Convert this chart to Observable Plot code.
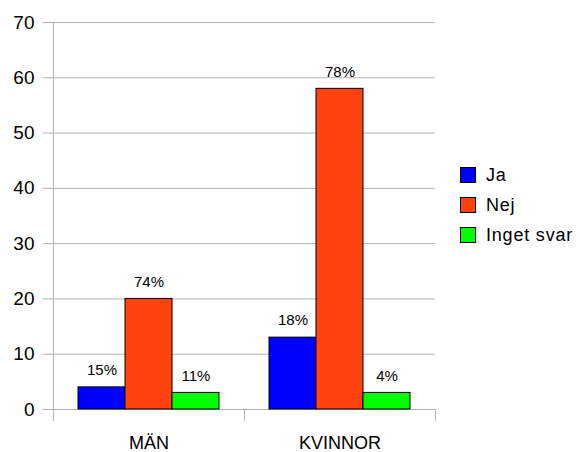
<!DOCTYPE html>
<html><head><meta charset="utf-8">
<script src="https://cdn.jsdelivr.net/npm/d3@7"></script>
<script src="https://cdn.jsdelivr.net/npm/@observablehq/plot@0.6"></script>
<style>
body{margin:0;background:#fff;font-family:"Liberation Sans",Arial,sans-serif}
#wrap{position:relative;width:580px;height:452px}
#legend{position:absolute;left:460px;top:160px;font-size:18px;color:#000;letter-spacing:0.8px}
.item{display:flex;align-items:center;height:30px}
.sw{width:14px;height:14px;border:1px solid #000;margin-right:10px}
</style></head><body><div id="wrap"></div>
<script>
const categories = ["MÄN", "KVINNOR"];
const series = ["Ja", "Nej", "Inget svar"];
const colors = ["#0000ff", "#ff420e", "#00ff00"];
const valuesJa = [4, 13];
const valuesNej = [20, 58];
const valuesInget = [3, 3];
const labelsJa = ["15%", "18%"];
const labelsNej = ["74%", "78%"];
const labelsInget = ["11%", "4%"];
const yTicks = [0, 10, 20, 30, 40, 50, 60, 70];

const seriesValues = [valuesJa, valuesNej, valuesInget];
const seriesLabels = [labelsJa, labelsNej, labelsInget];
const data = [];
categories.forEach((c, ci) => series.forEach((s, si) => data.push({cat: c, series: s, value: seriesValues[si][ci], label: seriesLabels[si][ci]})));

const W = 580, H = 452, mT = 22, mB = 43, mL = 53, mR = 145;
const frameH = H - mT - mB;
const grid = "#b3b3b3";

const chart = Plot.plot({
  width: W, height: H,
  marginLeft: mL, marginRight: mR, marginTop: mT, marginBottom: mB,
  style: {fontFamily: "'Liberation Sans', Arial, sans-serif", fontSize: "19px", color: "black", background: "white", overflow: "visible"},
  fx: {domain: categories, padding: 0, label: null, axis: null},
  x: {domain: series, paddingInner: 0, paddingOuter: 0.5, axis: null},
  y: {domain: [0, 70], label: null},
  color: {domain: series, range: colors},
  marks: [
    Plot.gridY(yTicks, {stroke: grid, strokeOpacity: 1}),
    Plot.axisY(yTicks, {tickSize: 10, tickPadding: 9, stroke: grid, strokeOpacity: 1, fill: "black", label: null, fontSize: 19}),
    Plot.frame({anchor: "left", facetAnchor: "left", insetBottom: -11, stroke: grid, strokeOpacity: 1}),
    Plot.frame({anchor: "right", insetTop: frameH, insetBottom: -11, stroke: grid, strokeOpacity: 1}),
    Plot.barY(data, {fx: "cat", x: "series", y: "value", fill: "series", stroke: "#000", strokeWidth: 1}),
    Plot.text(data, {fx: "cat", x: "series", y: "value", text: "label", dy: -17, fontSize: 15, fill: "black"}),
    Plot.axisFx({anchor: "bottom", tickSize: 0, tickPadding: 27, fontSize: 18, label: null, fill: "black", style: {letterSpacing: "0.8px"}})
  ]
});
const wrap = document.getElementById("wrap");
wrap.appendChild(chart);
const legend = document.createElement("div");
legend.id = "legend";
series.forEach((s, i) => {
  const it = document.createElement("div"); it.className = "item";
  const sw = document.createElement("span"); sw.className = "sw"; sw.style.background = colors[i];
  const t = document.createElement("span"); t.textContent = s;
  it.appendChild(sw); it.appendChild(t); legend.appendChild(it);
});
wrap.appendChild(legend);
</script></body></html>
